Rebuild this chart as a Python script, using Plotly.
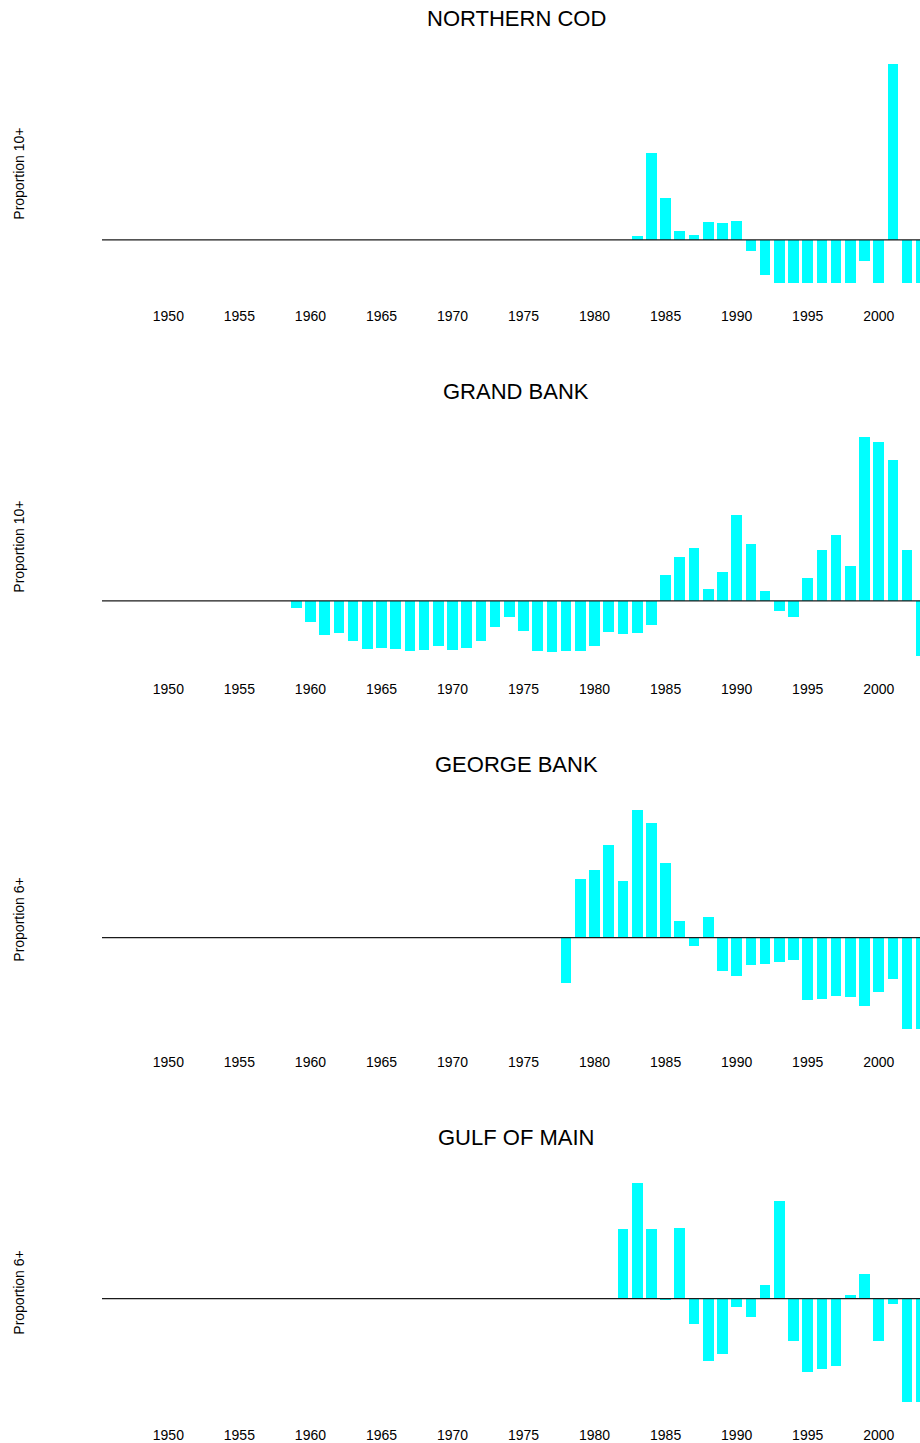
import plotly.graph_objects as go

# ---------------- data ----------------
titles = ["NORTHERN COD", "GRAND BANK", "GEORGE BANK", "GULF OF MAIN"]
ylabels = ["Proportion 10+", "Proportion 10+", "Proportion 6+", "Proportion 6+"]

nc_years = list(range(1983, 2004))
nc_vals = [0.034, 0.867, 0.414, 0.087, 0.047, 0.177, 0.167, 0.187, -0.110, -0.353,
           -0.436, -0.436, -0.436, -0.436, -0.436, -0.436, -0.210, -0.436, 1.757,
           -0.436, -0.436]

gb_years = list(range(1959, 2004))
gb_vals = [-0.073, -0.213, -0.347, -0.320, -0.403, -0.483, -0.477, -0.483, -0.507,
           -0.497, -0.457, -0.490, -0.477, -0.400, -0.260, -0.160, -0.303, -0.507,
           -0.517, -0.507, -0.500, -0.450, -0.313, -0.337, -0.320, -0.245,
           0.260, 0.440, 0.527, 0.120, 0.287, 0.857, 0.570, 0.097, -0.100, -0.160,
           0.230, 0.507, 0.660, 0.347, 1.640, 1.587, 1.410, 0.507, -0.557]

gg_years = list(range(1978, 2004))
gg_vals = [-0.457, 0.587, 0.677, 0.923, 0.567, 1.277, 1.147, 0.747, 0.167, -0.080,
           0.210, -0.333, -0.387, -0.277, -0.263, -0.240, -0.220, -0.623, -0.617,
           -0.580, -0.597, -0.680, -0.540, -0.413, -0.917, -0.917]

gm_years = list(range(1982, 2004))
gm_vals = [0.690, 1.157, 0.690, -0.017, 0.703, -0.257, -0.623, -0.560, -0.083,
           -0.187, 0.137, 0.977, -0.430, -0.737, -0.707, -0.680, 0.037, 0.240,
           -0.430, -0.053, -1.040, -1.040]

tick_years = [1950, 1955, 1960, 1965, 1970, 1975, 1980, 1985, 1990, 1995, 2000]

series = [(nc_years, nc_vals), (gb_years, gb_vals), (gg_years, gg_vals), (gm_years, gm_vals)]

# ---------------- layout geometry ----------------
W, H = 920, 1443
ML = 102
plot_w = W - ML
first_top = 55.2
step = 373.0
panel_h = 237.0
x_range = [1945.33, 2002.906]

FONT = "Arial, Liberation Sans, Helvetica, sans-serif"

fig = go.Figure()
annotations = []
shapes = []
layout_axes = {}

for i, ((yrs, vals), title, ylab) in enumerate(zip(series, titles, ylabels)):
    n = i + 1
    xa = "x" if n == 1 else f"x{n}"
    ya = "y" if n == 1 else f"y{n}"
    fig.add_trace(go.Bar(
        x=yrs, y=vals, xaxis=xa, yaxis=ya, width=0.75,
        marker=dict(color="#00FFFF", line=dict(width=0)),
        showlegend=False, hoverinfo="x+y",
    ))
    top = first_top + i * step
    bot = top + panel_h
    d = [1 - bot / H, 1 - top / H]
    lo, hi = min(vals), max(vals)
    r = hi - lo
    yr = [lo - 0.04 * r, hi + 0.04 * r]
    xkey = "xaxis" if n == 1 else f"xaxis{n}"
    ykey = "yaxis" if n == 1 else f"yaxis{n}"
    layout_axes[xkey] = dict(
        domain=[0, 1], range=x_range, anchor=ya, tickmode="array",
        tickvals=tick_years, ticktext=[str(t) for t in tick_years],
        showgrid=False, zeroline=False, showline=False, ticks="",
        tickfont=dict(family=FONT, size=14, color="#000"),
        ticklabelstandoff=14, fixedrange=True,
    )
    layout_axes[ykey] = dict(
        domain=d, range=yr, anchor=xa, showgrid=False, zeroline=False,
        showline=False, showticklabels=False, ticks="", fixedrange=True,
    )
    shapes.append(dict(
        type="line", xref=f"{xa} domain", yref=ya, x0=0, x1=1, y0=0, y1=0,
        line=dict(color="#1a1a1a", width=1.3), layer="above",
    ))
    cy = (top + bot) / 2
    annotations.append(dict(
        text=title, xref="paper", yref="paper",
        x=(516 - ML) / plot_w, y=1 - (18.5 + i * step) / H,
        xanchor="center", yanchor="middle", showarrow=False,
        font=dict(family=FONT, size=22, color="#000"),
    ))
    annotations.append(dict(
        text=ylab, xref="paper", yref="paper",
        x=(19 - ML) / plot_w, y=1 - cy / H, textangle=-90,
        xanchor="center", yanchor="middle", showarrow=False,
        font=dict(family=FONT, size=14, color="#000"),
    ))

fig.update_layout(
    width=W, height=H,
    margin=dict(l=ML, r=0, t=0, b=0, pad=0),
    paper_bgcolor="white", plot_bgcolor="white",
    bargap=0, annotations=annotations, shapes=shapes,
    **layout_axes,
)

# remove the browser's default 8px body margin so the figure fills the window exactly
fig.write_html(
    "out.html",
    config={"displayModeBar": False},
    post_script="document.body.style.margin='0';document.body.style.overflow='hidden';",
)
